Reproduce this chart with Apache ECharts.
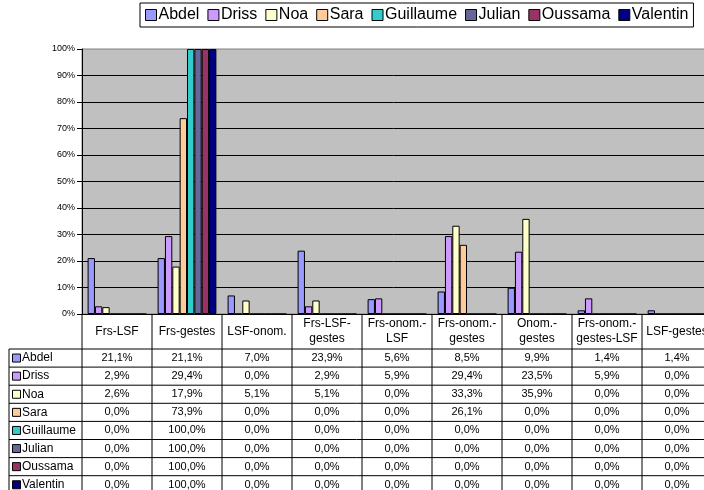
<!DOCTYPE html>
<html>
<head>
<meta charset="utf-8">
<script src="https://cdn.jsdelivr.net/npm/echarts@6/dist/echarts.min.js"></script>
<style>
  html, body { margin: 0; padding: 0; background: #fff; }
  #chart { width: 704px; height: 490px; }
</style>
</head>
<body>
<div id="chart"></div>
<script>
// Combination categories (x axis) and their header text in the data table
const categories = ['Frs-LSF', 'Frs-gestes', 'LSF-onom.', 'Frs-LSF-gestes', 'Frs-onom.-LSF',
  'Frs-onom.-gestes', 'Onom.-gestes', 'Frs-onom.-gestes-LSF', 'LSF-gestes'];
const headerLabels = ['Frs-LSF', 'Frs-gestes', 'LSF-onom.', 'Frs-LSF-\ngestes', 'Frs-onom.-\nLSF',
  'Frs-onom.-\ngestes', 'Onom.-\ngestes', 'Frs-onom.-\ngestes-LSF', 'LSF-gestes'];

// Percentage axis ticks
const yTicks = [0, 10, 20, 30, 40, 50, 60, 70, 80, 90, 100];

// Per-child percentages for each combination
const abdel     = [21.1, 21.1, 7.0, 23.9, 5.6, 8.5, 9.9, 1.4, 1.4];
const driss     = [2.9, 29.4, 0.0, 2.9, 5.9, 29.4, 23.5, 5.9, 0.0];
const noa       = [2.6, 17.9, 5.1, 5.1, 0.0, 33.3, 35.9, 0.0, 0.0];
const sara      = [0.0, 73.9, 0.0, 0.0, 0.0, 26.1, 0.0, 0.0, 0.0];
const guillaume = [0.0, 100.0, 0.0, 0.0, 0.0, 0.0, 0.0, 0.0, 0.0];
const julian    = [0.0, 100.0, 0.0, 0.0, 0.0, 0.0, 0.0, 0.0, 0.0];
const oussama   = [0.0, 100.0, 0.0, 0.0, 0.0, 0.0, 0.0, 0.0, 0.0];
const valentin  = [0.0, 100.0, 0.0, 0.0, 0.0, 0.0, 0.0, 0.0, 0.0];

const names = ['Abdel', 'Driss', 'Noa', 'Sara', 'Guillaume', 'Julian', 'Oussama', 'Valentin'];
const values = [abdel, driss, noa, sara, guillaume, julian, oussama, valentin];
const colors = ['#9999FF', '#CC99FF', '#FFFFCC', '#FFCC99', '#33CCCC', '#666699', '#993366', '#000080'];

const FONT = '"Liberation Sans", Arial, sans-serif';
const GRID = { left: 82, right: -8, top: 49, bottom: 176 };
const HEADER_H = 35;
const ROW_H = 18.1;
const TABLE_LEFT = 9;

const chart = echarts.init(document.getElementById('chart'), null, { renderer: 'canvas' });

const option = {
  animation: false,
  textStyle: { fontFamily: FONT, color: '#000' },
  legend: {
    data: names,
    left: 140,
    top: 3,
    icon: 'rect',
    itemWidth: 11,
    itemHeight: 11,
    itemGap: 8,
    padding: [4, 5, 4, 5],
    backgroundColor: '#fff',
    borderColor: '#000',
    borderWidth: 1,
    itemStyle: { borderColor: '#000', borderWidth: 1 },
    textStyle: { fontFamily: FONT, fontSize: 16, color: '#000', padding: [0, 0, 0, -3] }
  },
  grid: {
    left: GRID.left, right: GRID.right, top: GRID.top, bottom: GRID.bottom,
    outerBoundsMode: 'none',
    containLabel: false,
    show: true,
    backgroundColor: '#C0C0C0',
    borderColor: '#808080',
    borderWidth: 1
  },
  xAxis: {
    type: 'category',
    data: categories,
    axisLine: { show: true, lineStyle: { color: '#000', width: 1 } },
    axisTick: { show: false },
    axisLabel: {
      interval: 0,
      margin: HEADER_H / 2,
      verticalAlign: 'middle',
      align: 'center',
      fontFamily: FONT,
      fontSize: 12,
      lineHeight: 15,
      color: '#000',
      formatter: (v, i) => headerLabels[i]
    },
    splitLine: { show: false }
  },
  yAxis: {
    type: 'value',
    min: yTicks[0],
    max: yTicks[yTicks.length - 1],
    interval: yTicks[1] - yTicks[0],
    axisLine: { show: true, lineStyle: { color: '#000', width: 1 } },
    axisTick: { show: true, length: 5, lineStyle: { color: '#000' } },
    axisLabel: { fontFamily: FONT, fontSize: 9, color: '#000', margin: 7, formatter: '{value}%' },
    splitLine: { show: true, showMaxLine: false, lineStyle: { color: '#000', width: 1 } }
  },
  series: names.map((n, i) => ({
    name: n,
    type: 'bar',
    data: values[i],
    barGap: '0%',
    barCategoryGap: '16%',
    itemStyle: { color: colors[i], borderColor: '#000', borderWidth: 1 }
  }))
};

chart.setOption(option);

// Data table below the plot, aligned on the category axis
function buildTable() {
  const xs = categories.map((c, i) => chart.convertToPixel({ xAxisIndex: 0 }, i));
  const yZero = chart.convertToPixel({ yAxisIndex: 0 }, 0);
  const catW = xs.length > 1 ? xs[1] - xs[0] : 70;
  const H = chart.getHeight();
  const W = chart.getWidth();
  const rowsTop = yZero + HEADER_H;
  const els = [];
  const line = (x1, y1, x2, y2, color) => els.push({
    type: 'line', silent: true, z: 100,
    shape: { x1, y1, x2, y2 },
    style: { stroke: color || '#000', lineWidth: 1 }
  });

  // vertical separators between categories
  const leftEdge = xs[0] - catW / 2;
  line(leftEdge, yZero, leftEdge, H);
  xs.forEach(x => line(x + catW / 2, yZero, x + catW / 2, H));
  // left border of the row header column
  line(TABLE_LEFT, rowsTop, TABLE_LEFT, H);
  // horizontal row lines
  for (let k = 0; k <= names.length; k++) {
    const y = rowsTop + k * ROW_H;
    line(TABLE_LEFT, y, W, y);
  }

  names.forEach((n, r) => {
    const cy = rowsTop + (r + 0.5) * ROW_H;
    els.push({
      type: 'rect', silent: true, z: 101,
      shape: { x: TABLE_LEFT + 3.5, y: cy - 4, width: 8, height: 8 },
      style: { fill: colors[r], stroke: '#000', lineWidth: 1 }
    });
    els.push({
      type: 'text', silent: true, z: 101,
      x: TABLE_LEFT + 13, y: cy,
      style: { text: n, font: '12px ' + FONT, fill: '#000', verticalAlign: 'middle', align: 'left' }
    });
    values[r].forEach((v, c) => {
      els.push({
        type: 'text', silent: true, z: 101,
        x: xs[c], y: cy,
        style: {
          text: v.toFixed(1).replace('.', ',') + '%',
          font: '11px ' + FONT, fill: '#000', verticalAlign: 'middle', align: 'center'
        }
      });
    });
  });

  chart.setOption({ graphic: { elements: els } });
}

buildTable();
</script>
</body>
</html>
